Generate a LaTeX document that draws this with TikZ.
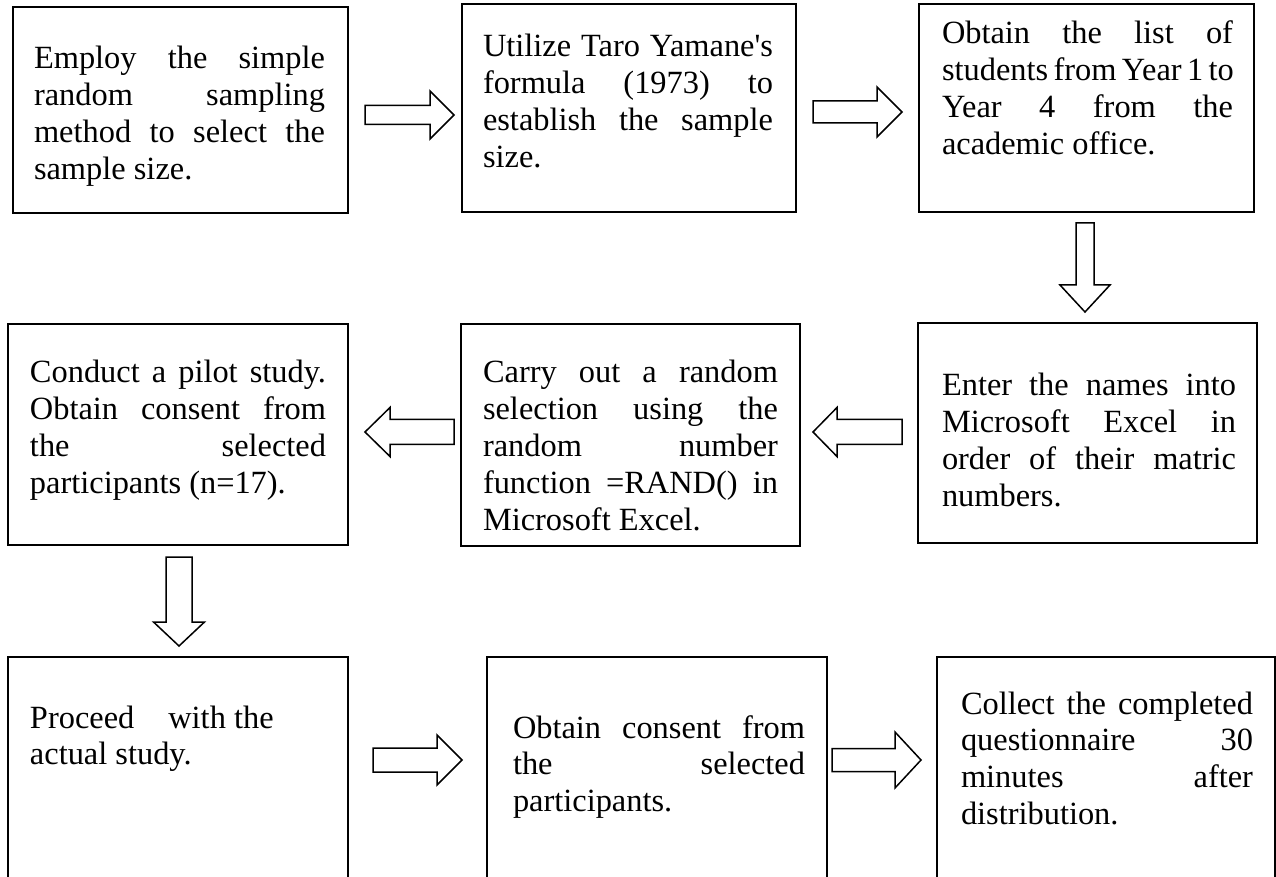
\documentclass[tikz,border=0pt]{standalone}
\usepackage{fontspec}
\setmainfont{Liberation Serif}[Ligatures=TeXOff]
\newcommand\jline[1]{\makebox[\linewidth][s]{#1}\\}
% horizontal block arrow: tail x, head-base x, tip x, centre y, shaft half, head half
\newcommand\blockH[6]{\draw[blk] (#1,{#4-#5}) -- (#2,{#4-#5}) -- (#2,{#4-#6}) -- (#3,#4) -- (#2,{#4+#6}) -- (#2,{#4+#5}) -- (#1,{#4+#5}) -- cycle;}
% vertical block arrow: tail y, head-base y, tip y, centre x, shaft half, head half
\newcommand\blockV[6]{\draw[blk] ({#4-#5},#1) -- ({#4-#5},#2) -- ({#4-#6},#2) -- (#4,#3) -- ({#4+#6},#2) -- ({#4+#5},#2) -- ({#4+#5},#1) -- cycle;}
\begin{document}
\begin{tikzpicture}[x=0.5pt,y=-0.5pt,
  box/.style={draw, line width=1pt, inner sep=0pt, outer sep=0pt},
  txt/.style={inner sep=0pt, outer sep=0pt, anchor=base west, font=\fontsize{16.2}{18.4}\selectfont},
  blk/.style={draw, line width=0.75pt, fill=white, line join=miter}]
\fill[white] (0,0) rectangle (1276,877);
\useasboundingbox (0,0) rectangle (1276,877);
\clip (0,0) rectangle (1276,877);
% boxes
\node[box, minimum width=167.5pt, minimum height=103pt] (b1) at (180.5,110) {};
\node[box, minimum width=167pt, minimum height=104pt] (b2) at (629,108) {};
\node[box, minimum width=167.5pt, minimum height=104pt] (b3) at (1086.5,108) {};
\node[box, minimum width=169.5pt, minimum height=110pt] (b4) at (1087.5,433) {};
\node[box, minimum width=169.5pt, minimum height=111pt] (b5) at (630.5,435) {};
\node[box, minimum width=170pt, minimum height=110.5pt] (b6) at (178,434.5) {};
\node[box, minimum width=170pt, minimum height=121.5pt] (b7) at (178,778.5) {};
\node[box, minimum width=170pt, minimum height=121.5pt] (b8) at (657,778.5) {};
\node[box, minimum width=169pt, minimum height=121.5pt] (b9) at (1106,778.5) {};
% texts
\node[txt] (t1) at (34,69) {\parbox[t]{145.5pt}{\jline{Employ the simple}\jline{random sampling}\jline{method to select the}sample size.}};
\node[txt] (t2) at (483,57) {\parbox[t]{145pt}{\jline{Utilize Taro Yamane's}\jline{formula (1973) to}\jline{establish the sample}size.}};
\node[txt] (t3) at (942,44) {\parbox[t]{145.5pt}{\jline{Obtain the list of}\jline{students from Year 1 to}\jline{Year 4 from the}academic office.}};
\node[txt] (t4) at (942,396) {\parbox[t]{147pt}{\jline{Enter the names into}\jline{Microsoft Excel in}\jline{order of their matric}numbers.}};
\node[txt] (t5) at (483,383) {\parbox[t]{147.5pt}{\jline{Carry out a random}\jline{selection using the}\jline{random number}\jline{function =RAND() in}Microsoft Excel.}};
\node[txt] (t6) at (30,383) {\parbox[t]{148pt}{\jline{Conduct a pilot study.}\jline{Obtain consent from}\jline{the selected}participants (n=17).}};
\node[txt] (t7) at (30,728) {\parbox[t]{148pt}{Proceed\hspace*{17pt}with the\\actual study.}};
\node[txt] (t8) at (513,738) {\parbox[t]{146pt}{\jline{Obtain consent from}\jline{the selected}participants.}};
\node[txt] (t9) at (961,714) {\parbox[t]{146pt}{\jline{Collect the completed}\jline{questionnaire 30}\jline{minutes after}distribution.}};
% block arrows
\blockH{365}{430}{454}{115}{9.5}{24}
\blockH{813}{877}{902}{112}{11}{25}
\blockV{223}{285}{312}{1085}{9}{25}
\blockH{902}{837}{813}{432}{12.5}{24.5}
\blockH{454}{390}{365}{432}{12.5}{24.5}
\blockV{557}{622}{646}{179}{13}{25.5}
\blockH{373}{437}{462}{760}{12}{25}
\blockH{832}{895}{921}{760}{11.5}{28}
\end{tikzpicture}
\end{document}
